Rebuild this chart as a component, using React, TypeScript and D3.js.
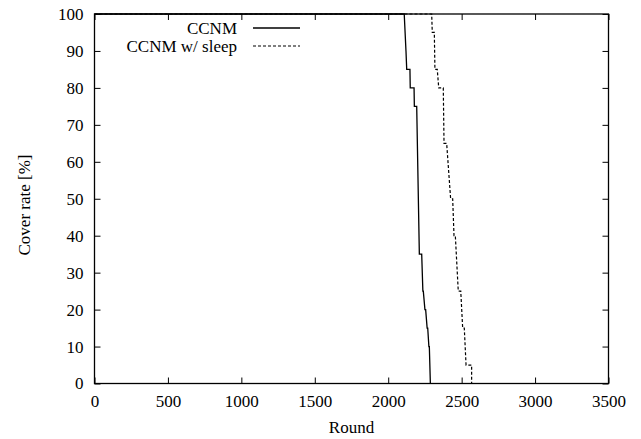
import React, { useRef, useEffect } from 'react';
import * as d3 from 'd3';

const seriesNames = ['CCNM', 'CCNM w/ sleep'];
const ccnmRounds = [0, 2109, 2121, 2126, 2148, 2150, 2176, 2178, 2194, 2212, 2228, 2236, 2239, 2250, 2255, 2265, 2269, 2277, 2280, 2287];
const ccnmRates = [100, 100, 90, 85, 85, 80, 80, 75, 75, 35, 35, 25, 25, 20, 20, 15, 15, 10, 10, 0];
const sleepRounds = [0, 2296, 2300, 2314, 2318, 2334, 2344, 2375, 2380, 2398, 2425, 2439, 2448, 2457, 2477, 2494, 2507, 2518, 2530, 2568, 2568];
const sleepRates = [100, 100, 95, 95, 85, 85, 80, 80, 65, 65, 50, 50, 40, 40, 25, 25, 15, 15, 5, 5, 0];
const xTicks = [0, 500, 1000, 1500, 2000, 2500, 3000, 3500];
const yTicks = [0, 10, 20, 30, 40, 50, 60, 70, 80, 90, 100];

const FONT = '"Liberation Serif", "Times New Roman", Times, "DejaVu Serif", serif';

const App = () => {
  const ref = useRef<SVGSVGElement>(null);

  useEffect(() => {
    const width = 641;
    const height = 439;
    const left = 94.5;
    const right = 608.5;
    const top = 14;
    const bottom = 383.5;

    const svg = d3.select(ref.current);
    svg.selectAll('*').remove();
    svg.attr('width', width).attr('height', height)
      .style('font-family', FONT)
      .style('font-size', '17px');

    const x = d3.scaleLinear().domain([0, 3500]).range([left, right]);
    const y = d3.scaleLinear().domain([0, 100]).range([bottom, top]);

    const tick = 6;
    const styleAxis = (g: any) => {
      g.attr('font-family', null).attr('font-size', null);
      g.select('.domain').remove();
      g.selectAll('.tick line').attr('stroke', '#000').attr('stroke-width', 1);
      g.selectAll('.tick text').attr('fill', '#000');
    };

    svg.append('g').attr('transform', `translate(0,${bottom})`)
      .call(d3.axisBottom(x).tickValues(xTicks).tickSize(-tick).tickPadding(11).tickFormat(d3.format('d')))
      .call(styleAxis);
    svg.append('g').attr('transform', `translate(0,${top})`)
      .call(d3.axisTop(x).tickValues(xTicks).tickSize(-tick).tickFormat(() => ''))
      .call(styleAxis);
    svg.append('g').attr('transform', `translate(${left},0)`)
      .call(d3.axisLeft(y).tickValues(yTicks).tickSize(-tick).tickPadding(11).tickFormat(d3.format('d')))
      .call(styleAxis);
    svg.append('g').attr('transform', `translate(${right},0)`)
      .call(d3.axisRight(y).tickValues(yTicks).tickSize(-tick).tickFormat(() => ''))
      .call(styleAxis);

    const line = d3.line<[number, number]>()
      .x(d => x(d[0]))
      .y(d => y(d[1]));

    const ccnm = ccnmRounds.map((r, i) => [r, ccnmRates[i]] as [number, number]);
    const sleep = sleepRounds.map((r, i) => [r, sleepRates[i]] as [number, number]);

    svg.append('path').datum(sleep)
      .attr('d', line)
      .attr('fill', 'none')
      .attr('stroke', '#000')
      .attr('stroke-width', 1.2)
      .attr('stroke-dasharray', '3,2');
    svg.append('path').datum(ccnm)
      .attr('d', line)
      .attr('fill', 'none')
      .attr('stroke', '#000')
      .attr('stroke-width', 1.3);

    // frame
    svg.append('rect')
      .attr('x', left).attr('y', top)
      .attr('width', right - left).attr('height', bottom - top)
      .attr('fill', 'none').attr('stroke', '#000').attr('stroke-width', 1.3);

    // legend
    const legend = svg.append('g');
    seriesNames.forEach((name, i) => {
      const ly = 28 + i * 18;
      legend.append('text')
        .attr('x', 237).attr('y', ly)
        .attr('dy', '0.35em')
        .attr('text-anchor', 'end')
        .text(name);
      legend.append('line')
        .attr('x1', 253).attr('x2', 300)
        .attr('y1', ly).attr('y2', ly)
        .attr('stroke', '#000')
        .attr('stroke-width', i === 0 ? 1.3 : 1.2)
        .attr('stroke-dasharray', i === 0 ? null : '3,2');
    });

    svg.append('text')
      .attr('x', (left + right) / 2).attr('y', 433)
      .attr('text-anchor', 'middle')
      .text('Round');

    svg.append('text')
      .attr('transform', `translate(24,205) rotate(-90)`)
      .attr('text-anchor', 'middle')
      .attr('dy', '0.35em')
      .text('Cover rate [%]');
  }, []);

  return (
    <div style={{ position: 'absolute', left: 0, top: 0 }}>
      <svg ref={ref}></svg>
    </div>
  );
};

export default App;
